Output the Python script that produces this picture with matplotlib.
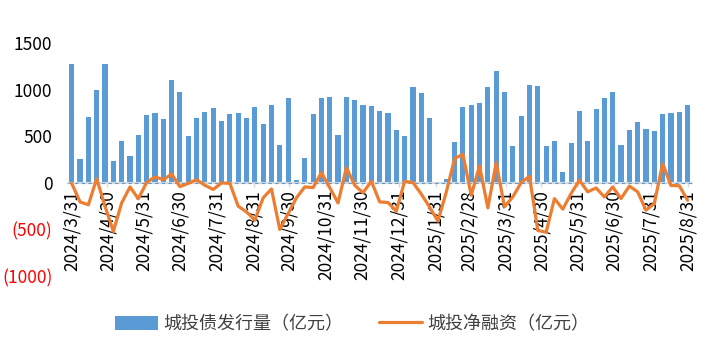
import matplotlib
matplotlib.use('Agg')
import matplotlib.pyplot as plt
import pandas as pd
import numpy as np

plt.rcParams['font.family'] = ['Noto Sans CJK SC', 'DejaVu Sans']

# ---- data ----
start_date = '2024-03-31'
n_weeks = 75
issuance = [1280, 255, 708, 1002, 1280, 236, 451, 294, 519, 734, 751, 691, 1109, 976,
            508, 702, 762, 809, 665, 740, 751, 702, 816, 633, 841, 412, 912, 36,
            272, 744, 916, 923, 519, 923, 895, 841, 830, 777, 755, 573, 501, 1030,
            970, 702, 0, 47, 440, 816, 837, 858, 1030, 1202, 976, 397, 719, 1052,
            1041, 397, 447, 118, 426, 773, 447, 794, 912, 976, 404, 569, 654, 579,
            555, 740, 751, 762, 837]
net_financing = [-5, -204, -235, 45, -250, -520, -215, -43, -170, 5, 65, 35, 95, -40,
                 -5, 35, -25, -70, 0, -5, -250, -311, -400, -160, -65, -500, -330, -160,
                 -43, -50, 110, -50, -215, 165, -25, -105, 18, -204, -210, -304, 18, 4,
                 -120, -260, -410, -100, 262, 308, -132, 182, -268, 219, -257, -150, 4, 70,
                 -510, -530, -168, -282, -114, 29, -96, -54, -150, -43, -168, -34, -96, -293,
                 -221, 208, -28, -30, -186]
tick_labels = ['2024/3/31', '2024/4/30', '2024/5/31', '2024/6/30', '2024/7/31', '2024/8/31',
               '2024/9/30', '2024/10/31', '2024/11/30', '2024/12/31', '2025/1/31', '2025/2/28',
               '2025/3/31', '2025/4/30', '2025/5/31', '2025/6/30', '2025/7/31', '2025/8/31']
y_ticks = [-1000, -500, 0, 500, 1000, 1500]
series_names = ['城投债发行量（亿元）', '城投净融资（亿元）']

dates = pd.date_range(start_date, periods=n_weeks, freq='7D')
tick_dates = pd.to_datetime(tick_labels, format='%Y/%m/%d')

fig = plt.figure(figsize=(7.09, 3.55), dpi=100)
ax = fig.add_axes([0.0953, 0.2225, 0.9757 - 0.0953, 0.878 - 0.2225])

bars = ax.bar(dates, issuance, width=4.3, color='#5B9BD5', zorder=1)
ax.axhline(0, color='#5B9BD5', ls=(0, (3, 3)), lw=0.8, zorder=2.6)
line, = ax.plot(dates, net_financing, color='#ED7D31', lw=2.3,
                solid_joinstyle='round', solid_capstyle='round', zorder=4)

ax.set_xlim(dates[0] - pd.Timedelta(days=3.5), dates[-1] + pd.Timedelta(days=3.5))
ax.set_ylim(-1000, 1500)

for s in ['top', 'right', 'left']:
    ax.spines[s].set_visible(False)
ax.spines['bottom'].set_position(('data', 0))
ax.spines['bottom'].set_color('#D9D9D9')
ax.spines['bottom'].set_linewidth(1.5)

ax.set_yticks(y_ticks)
ax.set_yticklabels([f'({abs(v)})' if v < 0 else f'{v}' for v in y_ticks], fontsize=12.5)
for lab, v in zip(ax.get_yticklabels(), y_ticks):
    lab.set_color('#FF0000' if v < 0 else '#000000')
ax.tick_params(axis='y', length=0, pad=11)

ax.set_xticks(tick_dates)
ax.set_xticklabels(tick_labels, rotation=90, fontsize=12.5, color='#000000')
ax.tick_params(axis='x', length=3, width=1, color='#D9D9D9', pad=2)

fig.legend([bars, line], series_names, loc='center', bbox_to_anchor=(0.497, 1 - 324 / 355),
           ncol=2, frameon=False, fontsize=13.0, handlelength=2.35, handleheight=0.85,
           handletextpad=0.3, columnspacing=2.0, labelcolor='#404040')

fig.savefig('out.png', dpi=100)
